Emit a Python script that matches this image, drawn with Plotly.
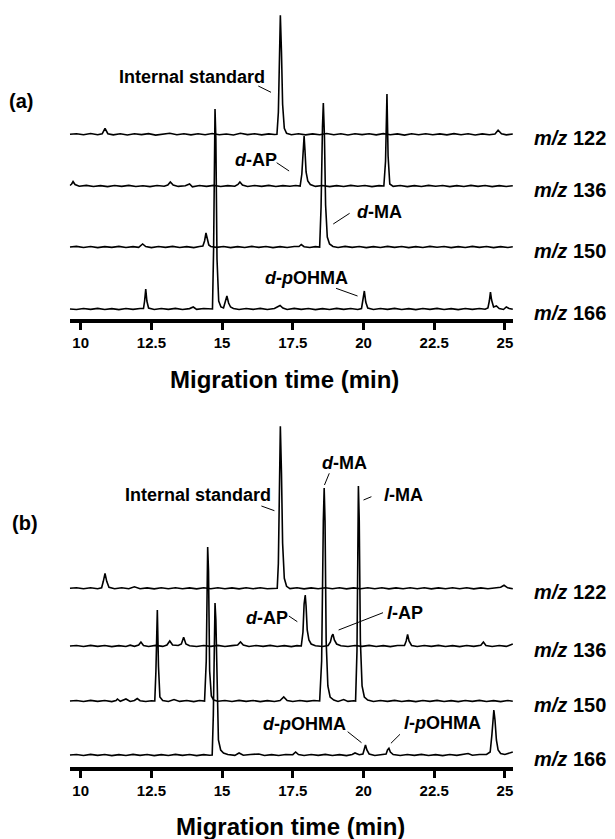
import plotly.graph_objects as go

# Browser window is 615x839; the HTML body has an 8 px default margin,
# so the figure itself is 8 px smaller on each axis and coordinates are shifted.
WIN_W, WIN_H, PAD = 615, 839, 8
W, H = WIN_W - PAD, WIN_H - PAD
FONT = "Liberation Sans, Arial, Helvetica, sans-serif"

# ---------------- data: (migration time [min], signal above baseline) ----------------
# Panel (a)
a122 = [(9.62,0),(9.85,0.6),(10.1,-0.5),(10.35,0.8),(10.6,-0.4),(10.76,0.5),(10.86,6),(10.96,0.6),
        (11.15,-0.6),(11.4,0.5),(11.65,-0.7),(11.9,0.6),(12.15,-0.3),(12.4,0.7),(12.65,-0.8),(12.9,0.4),
        (13.15,1.0),(13.4,-0.5),(13.65,0.6),(13.9,-0.6),(14.15,0.5),(14.4,-0.4),(14.65,0.8),(14.9,-0.5),
        (15.15,0.3),(15.4,-0.7),(15.65,1.0),(15.9,-0.3),(16.15,0.5),(16.4,-0.6),(16.65,0.4),(16.85,-0.2),
        (16.94,0),(16.99,22),(17.03,88),(17.06,119),(17.1,82),(17.14,30),(17.2,6),(17.28,1),
        (17.45,-0.4),(17.7,0.5),(17.95,-0.6),(18.2,0.4),(18.45,-0.5),(18.7,0.8),(18.95,-0.4),(19.2,0.5),
        (19.45,-0.7),(19.7,0.6),(19.95,-0.3),(20.2,0.5),(20.45,-0.6),(20.7,0.7),(20.95,-0.5),(21.2,0.4),
        (21.45,-0.8),(21.7,0.5),(21.95,-0.4),(22.2,0.6),(22.45,-0.5),(22.7,0.4),(22.95,-0.6),(23.2,0.7),
        (23.45,-0.4),(23.7,0.5),(23.95,-0.7),(24.2,0.4),(24.45,-0.5),(24.65,0.3),(24.76,4),(24.88,0.5),
        (25.05,-0.6),(25.28,0.3)]
a136 = [(9.62,0.5),(9.68,2),(9.73,4.5),(9.8,1.5),(9.95,-0.3),(10.2,0.6),(10.45,-0.5),(10.7,0.4),
        (10.95,-0.6),(11.2,0.5),(11.45,-0.4),(11.7,0.6),(11.95,-0.5),(12.2,0.3),(12.45,-0.6),(12.7,0.5),
        (12.95,-0.3),(13.08,1),(13.17,4),(13.27,1),(13.45,-0.4),(13.7,0.3),(13.85,2),(13.95,-0.8),
        (14.2,0.5),(14.45,-0.4),(14.7,0.6),(14.95,-0.5),(15.2,0.4),(15.45,-0.3),(15.56,1.5),(15.63,4),
        (15.72,1),(15.9,-0.5),(16.15,0.5),(16.4,-0.4),(16.65,0.6),(16.9,-0.5),(17.15,0.4),(17.4,-0.3),
        (17.6,0.5),(17.76,0),(17.82,12),(17.86,40),(17.9,50),(17.93,36),(17.97,14),(18.03,5),(18.12,1.5),
        (18.3,-0.4),(18.55,0.5),(18.8,-0.6),(19.05,0.4),(19.3,-0.5),(19.55,0.6),(19.8,-0.3),(20.05,0.5),
        (20.3,-0.6),(20.55,0.4),(20.72,0),(20.78,25),(20.83,92),(20.87,30),(20.93,2),(21.05,-0.4),
        (21.3,0.5),(21.55,-0.6),(21.8,0.4),(22.05,-0.5),(22.3,0.6),(22.55,-0.3),(22.8,0.5),(23.05,-0.6),
        (23.3,0.4),(23.55,-0.5),(23.8,0.6),(24.05,-0.4),(24.3,0.5),(24.55,-0.6),(24.8,0.4),(25.05,-0.5),
        (25.28,0.3)]
a150 = [(9.62,0),(9.85,0.6),(10.1,-0.5),(10.35,0.5),(10.6,-0.6),(10.85,0.4),(11.1,-0.4),(11.35,0.6),
        (11.6,-0.5),(11.85,0.4),(12.05,-0.3),(12.19,3),(12.3,0.5),(12.5,-0.6),(12.75,0.5),(13.0,-0.4),
        (13.25,0.6),(13.5,-0.5),(13.75,0.4),(14.0,-0.6),(14.2,0.5),(14.32,1),(14.38,6),(14.43,14),
        (14.48,8),(14.53,2),(14.6,0.5),(14.8,-0.4),(15.05,0.5),(15.3,-0.6),(15.55,0.4),(15.8,-0.5),
        (16.05,0.6),(16.3,-0.4),(16.55,0.5),(16.8,-0.6),(17.05,0.4),(17.3,-0.5),(17.55,0.5),(17.72,0.5),
        (17.8,2.5),(17.9,0.3),(18.1,-0.5),(18.3,0.4),(18.45,0),(18.5,40),(18.55,120),(18.58,144),
        (18.62,110),(18.66,42),(18.72,10),(18.8,3),(18.92,0.5),(19.1,-0.5),(19.35,0.6),(19.6,-0.4),
        (19.85,0.5),(20.1,-0.6),(20.35,0.4),(20.6,-0.5),(20.85,0.6),(21.1,-0.4),(21.35,0.5),(21.6,-0.6),
        (21.85,0.4),(22.1,-0.5),(22.35,0.6),(22.6,-0.3),(22.85,0.5),(23.1,-0.6),(23.35,0.4),(23.6,-0.5),
        (23.85,0.6),(24.1,-0.4),(24.35,0.5),(24.6,-0.6),(24.85,0.4),(25.1,-0.5),(25.28,0.2)]
a166 = [(9.62,0),(9.85,-0.5),(10.1,0.5),(10.35,-0.4),(10.6,0.6),(10.85,-0.5),(11.1,0.4),(11.35,-0.6),
        (11.6,0.5),(11.85,-0.4),(12.1,0.5),(12.22,0.5),(12.26,8),(12.3,20),(12.34,8),(12.4,1),
        (12.6,-0.5),(12.85,0.5),(13.1,-0.4),(13.35,0.6),(13.6,-0.5),(13.85,0.4),(13.98,2),(14.1,-0.4),
        (14.35,0.5),(14.55,-0.3),(14.66,0),(14.7,60),(14.73,170),(14.75,200),(14.78,170),(14.82,50),
        (14.88,8),(14.96,2),(15.05,1),(15.1,6),(15.17,13),(15.23,6),(15.3,2),(15.4,0.5),(15.6,-0.5),
        (15.85,0.5),(16.1,-0.4),(16.35,0.6),(16.6,-0.5),(16.85,0.5),(16.98,2),(17.05,3.5),(17.15,1),
        (17.3,-0.5),(17.55,0.6),(17.8,-0.4),(18.05,0.5),(18.3,-0.6),(18.55,0.4),(18.8,-0.5),(19.05,0.6),
        (19.3,-0.4),(19.55,0.5),(19.8,-0.5),(19.93,0.5),(19.98,8),(20.03,18),(20.08,7),(20.15,1),
        (20.35,-0.5),(20.6,0.5),(20.85,-0.4),(21.1,0.6),(21.35,-0.5),(21.6,0.4),(21.85,-0.6),(22.1,0.5),
        (22.35,-0.4),(22.6,0.6),(22.85,-0.5),(23.1,0.4),(23.35,-0.6),(23.6,0.5),(23.85,-0.4),(24.1,0.5),
        (24.3,-0.3),(24.4,1),(24.45,8),(24.49,17),(24.53,9),(24.6,2),(24.7,3),(24.8,0.5),(24.95,-0.5),
        (25.05,2),(25.15,0.5),(25.28,-0.3)]

# Panel (b)
b122 = [(9.62,0),(9.85,0.5),(10.1,-0.5),(10.35,0.6),(10.6,-0.4),(10.74,0.5),(10.8,7),(10.86,15),
        (10.92,7),(11.0,1),(11.2,-0.5),(11.45,0.5),(11.7,-0.4),(11.9,1.5),(12.1,-0.5),(12.35,0.4),
        (12.6,-0.6),(12.85,0.5),(13.1,-0.4),(13.35,0.6),(13.6,-0.5),(13.85,0.4),(14.1,-0.6),(14.35,0.5),
        (14.6,-0.4),(14.85,0.6),(15.1,-0.5),(15.35,0.4),(15.6,-0.6),(15.85,0.5),(16.1,-0.4),(16.35,0.6),
        (16.6,-0.5),(16.85,0.3),(16.95,0),(16.99,25),(17.03,110),(17.06,162),(17.1,115),(17.14,45),
        (17.2,10),(17.28,2),(17.4,-0.3),(17.65,0.5),(17.9,-0.6),(18.15,0.4),(18.4,-0.5),(18.65,0.6),
        (18.9,-0.4),(19.15,0.5),(19.4,-0.6),(19.65,0.4),(19.9,-0.5),(20.15,0.6),(20.4,-0.4),(20.65,0.5),
        (20.9,-0.6),(21.15,0.4),(21.4,-0.5),(21.65,0.6),(21.9,-0.4),(22.15,0.5),(22.4,-0.6),(22.65,0.4),
        (22.9,-0.5),(23.15,0.6),(23.4,-0.4),(23.65,0.5),(23.9,-0.6),(24.15,0.4),(24.4,-0.5),(24.65,0.5),
        (24.85,1),(24.97,3),(25.1,0.5),(25.28,-0.4)]
b136 = [(9.62,0),(9.85,0.5),(10.1,-0.5),(10.35,0.6),(10.6,-0.4),(10.85,0.5),(11.1,-0.6),(11.35,0.4),
        (11.6,-0.5),(11.75,0.8),(11.9,-0.3),(12.05,1),(12.13,4),(12.22,0.5),(12.4,-0.5),(12.65,0.6),
        (12.9,-0.4),(13.05,1),(13.15,5),(13.25,1),(13.45,0.5),(13.56,2),(13.64,8.7),(13.72,2),(13.85,0.3),
        (14.1,-0.5),(14.35,0.5),(14.6,-0.4),(14.85,0.6),(15.1,-0.5),(15.35,0.4),(15.55,1),(15.65,4),
        (15.75,1),(15.95,-0.5),(16.2,0.5),(16.45,-0.4),(16.7,0.6),(16.95,-0.5),(17.2,0.4),(17.45,-0.6),
        (17.65,0.4),(17.8,0),(17.86,14),(17.9,42),(17.94,51),(17.97,40),(18.01,16),(18.07,6),(18.15,2),
        (18.3,0.3),(18.55,-0.5),(18.75,0.5),(18.83,4),(18.88,10),(18.92,11.7),(18.97,6),(19.05,2),
        (19.2,0.3),(19.45,-0.5),(19.7,0.5),(19.95,-0.4),(20.2,0.6),(20.45,-0.5),(20.7,0.4),(20.95,-0.6),
        (21.2,0.5),(21.45,0.5),(21.51,5),(21.56,11.7),(21.61,5),(21.7,0.5),(21.9,-0.5),(22.15,0.5),
        (22.4,-0.4),(22.65,0.6),(22.9,-0.5),(23.15,0.4),(23.4,-0.6),(23.65,0.5),(23.9,-0.4),(24.15,0.8),
        (24.24,4),(24.33,0.5),(24.55,-0.5),(24.8,0.5),(25.05,-0.4),(25.2,1),(25.28,2)]
b150 = [(9.62,0),(9.85,0.5),(10.1,-0.5),(10.35,0.6),(10.6,-0.4),(10.85,0.5),(11.1,-0.6),(11.25,0.4),
        (11.3,2),(11.4,-0.3),(11.6,2),(11.75,-0.5),(11.9,0.5),(12.0,2.5),(12.1,0.3),(12.3,-0.5),
        (12.5,0.3),(12.62,0),(12.66,30),(12.71,91),(12.75,35),(12.8,4),(12.9,0.5),(13.1,-0.5),(13.3,1.5),
        (13.5,-0.4),(13.75,0.5),(14.0,-0.6),(14.2,0.5),(14.38,0),(14.44,40),(14.49,154),(14.52,130),
        (14.56,30),(14.62,5),(14.7,1),(14.85,-0.3),(15.1,0.5),(15.35,-0.5),(15.6,0.6),(15.85,-0.4),
        (16.1,0.5),(16.35,-0.6),(16.6,0.4),(16.85,-0.5),(17.05,0.5),(17.18,4),(17.3,0.5),(17.5,-0.5),
        (17.75,0.5),(18.0,-0.4),(18.25,0.5),(18.45,0),(18.52,40),(18.58,180),(18.61,213),(18.64,180),
        (18.68,60),(18.74,15),(18.82,4),(18.95,1),(19.1,-0.4),(19.3,1.5),(19.45,-0.4),(19.65,0.3),
        (19.72,0),(19.77,50),(19.8,170),(19.82,215),(19.85,180),(19.89,60),(19.95,15),(20.03,4),
        (20.15,1),(20.35,-0.5),(20.6,0.5),(20.85,-0.4),(21.1,0.6),(21.35,-0.5),(21.6,0.4),(21.85,-0.6),
        (22.1,0.5),(22.35,-0.4),(22.6,0.6),(22.85,-0.5),(23.1,0.4),(23.35,-0.6),(23.6,0.5),(23.85,-0.4),
        (24.1,0.6),(24.35,-0.5),(24.6,0.4),(24.85,-0.6),(25.1,0.5),(25.28,-0.3)]
b166 = [(9.62,0),(9.85,0.5),(10.1,-0.5),(10.35,0.6),(10.6,-0.4),(10.85,0.5),(11.1,-0.6),(11.35,0.4),
        (11.6,-0.5),(11.85,0.6),(12.1,-0.4),(12.35,0.5),(12.6,-0.6),(12.85,0.4),(13.1,-0.5),(13.35,0.6),
        (13.6,-0.4),(13.85,0.5),(14.1,-0.6),(14.35,0.4),(14.55,-0.3),(14.65,0),(14.69,40),(14.72,120),
        (14.75,152),(14.78,135),(14.82,60),(14.87,15),(14.95,5),(15.05,2),(15.2,0.5),(15.45,-0.4),
        (15.6,2),(15.75,-0.3),(16.0,0.5),(16.3,1),(16.5,-0.5),(16.75,0.4),(17.0,-0.5),(17.25,0.5),
        (17.5,0.3),(17.6,3),(17.7,0.5),(17.9,-0.5),(18.15,0.5),(18.4,-0.4),(18.65,0.6),(18.9,-0.5),
        (19.15,0.4),(19.4,-0.6),(19.6,0.5),(19.7,2),(19.85,0.3),(19.98,1),(20.03,6),(20.07,10),
        (20.12,5),(20.2,1),(20.4,-0.5),(20.65,0.5),(20.8,1),(20.85,5),(20.9,6.7),(20.95,3),(21.05,0.5),
        (21.3,-0.5),(21.55,0.5),(21.8,-0.4),(22.05,0.6),(22.3,-0.5),(22.55,0.4),(22.8,-0.6),(23.05,0.5),
        (23.3,-0.4),(23.55,0.6),(23.7,1.5),(23.85,-0.3),(24.1,0.5),(24.35,0.5),(24.48,3),(24.54,20),
        (24.58,40),(24.61,45),(24.65,35),(24.7,15),(24.76,5),(24.85,1.5),(25.0,0.5),(25.2,2),(25.28,3)]

mz_labels = ["122", "136", "150", "166"]
offsets_a = [184.7, 133, 72, 10]      # vertical stacking offsets (same units as signal)
offsets_b = [178.7, 121, 66, 12]
tick_vals = [10, 12.5, 15, 17.5, 20, 22.5, 25]
tick_text = ["10", "12.5", "15", "17.5", "20", "22.5", "25"]
x_range = [9.604, 25.287]

# ---------------- figure ----------------
def px_x(p):
    return (p - PAD) / W

def px_y(p):
    return 1 - (p - PAD) / H

fig = go.Figure()
panels = [
    ("x", "y", [a122, a136, a150, a166], offsets_a),
    ("x2", "y2", [b122, b136, b150, b166], offsets_b),
]
for xa, ya, traces, offs in panels:
    for tr, off in zip(traces, offs):
        fig.add_trace(go.Scatter(
            x=[p[0] for p in tr], y=[p[1] + off for p in tr], mode="lines",
            line=dict(color="black", width=1.6), xaxis=xa, yaxis=ya,
            hoverinfo="skip", showlegend=False))

axis_common = dict(
    range=x_range, showline=True, linewidth=4, linecolor="black", mirror=False,
    ticks="outside", ticklen=7, tickwidth=3, tickcolor="black",
    tickvals=tick_vals, ticktext=tick_text, showgrid=False, zeroline=False,
    tickfont=dict(family=FONT, size=15, color="black", weight="bold"),
    fixedrange=True,
)
x_dom = [px_x(69.5), px_x(513)]
fig.update_layout(
    width=W, height=H, autosize=False,
    margin=dict(l=0, r=0, t=0, b=0),
    paper_bgcolor="white", plot_bgcolor="white",
    xaxis=dict(domain=x_dom, anchor="y", **axis_common),
    xaxis2=dict(domain=x_dom, anchor="y2", **axis_common),
    yaxis=dict(domain=[px_y(319), px_y(8)], range=[0, 311], visible=False, fixedrange=True),
    yaxis2=dict(domain=[px_y(767), px_y(420)], range=[0, 347], visible=False, fixedrange=True),
)

ann = []
def txt(text, x, y, xref, yref, size, xanchor="center"):
    ann.append(dict(text=text, x=x, y=y, xref=xref, yref=yref, showarrow=False,
                    xanchor=xanchor, yanchor="middle", borderpad=0,
                    font=dict(family=FONT, size=size, color="black", weight="bold")))

# m/z labels
for offs, yref in [(offsets_a, "y"), (offsets_b, "y2")]:
    for lab, off in zip(mz_labels, offs):
        txt(f"<i>m/z</i> {lab}", px_x(533), off - 4, "paper", yref, 20, xanchor="left")

# panel labels and axis titles
txt("(a)", px_x(21), px_y(101), "paper", "paper", 20)
txt("(b)", px_x(25), px_y(523), "paper", "paper", 20)
txt("Migration time (min)", px_x(284), px_y(379), "paper", "paper", 24)
txt("Migration time (min)", px_x(290), px_y(826), "paper", "paper", 24)

# peak annotations: (text, x, y, leader x0, y0, x1, y1)
peak_notes_a = [
    ("Internal standard", 13.94, 242.3, 16.28, 233, 16.73, 226.7),
    ("<i>d</i>-AP", 16.2, 159.5, 16.93, 156.3, 17.37, 148),
    ("<i>d</i>-MA", 20.58, 107.3, 19.51, 105.7, 18.93, 95),
    ("<i>d</i>-<i>p</i>OHMA", 17.97, 40.7, 19.03, 30.7, 19.79, 23),
]
peak_notes_b = [
    ("Internal standard", 14.15, 272, 16.39, 261, 16.85, 256.3),
    ("<i>d</i>-MA", 19.32, 303.7, 18.79, 293.7, 18.62, 282),
    ("<i>l</i>-MA", 21.4, 272, 20.28, 270.3, 20.0, 267),
    ("<i>d</i>-AP", 16.59, 148.7, 17.36, 151, 17.66, 145.3),
    ("<i>l</i>-AP", 21.46, 153.7, 20.69, 154.3, 19.12, 137),
    ("<i>d</i>-<i>p</i>OHMA", 17.93, 43, 19.44, 35.3, 19.93, 24.3),
    ("<i>l</i>-<i>p</i>OHMA", 22.8, 43.7, 21.29, 32.7, 20.97, 23.7),
]
shapes = []
for notes, xref, yref in [(peak_notes_a, "x", "y"), (peak_notes_b, "x2", "y2")]:
    for text, tx, ty, x0, y0, x1, y1 in notes:
        txt(text, tx, ty, xref, yref, 18)
        shapes.append(dict(type="line", xref=xref, yref=yref, x0=x0, y0=y0, x1=x1, y1=y1,
                           line=dict(color="black", width=1)))

fig.update_layout(annotations=ann, shapes=shapes)
fig.write_html("out.html")
